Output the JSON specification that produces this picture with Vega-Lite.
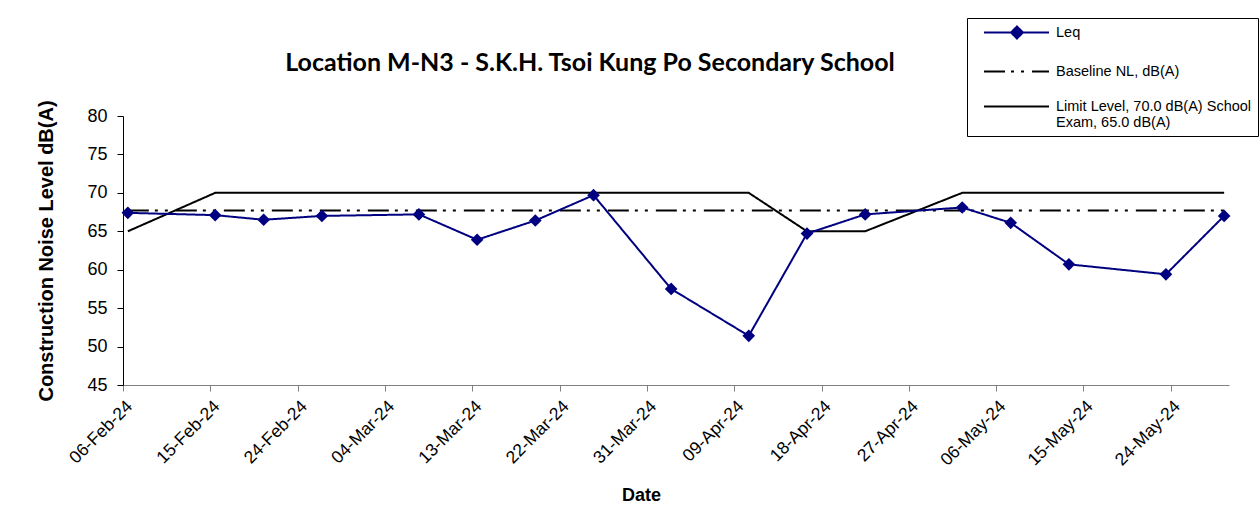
{
  "$schema": "https://vega.github.io/schema/vega-lite/v6.json",
  "width": 1106,
  "height": 269,
  "autosize": {"type": "none"},
  "padding": {"left": 123, "top": 116, "right": 30, "bottom": 125},
  "background": "white",
  "title": {
    "text": "Location M-N3 - S.K.H. Tsoi Kung Po Secondary School",
    "font": "Lato", "fontSize": 25, "fontWeight": "bold", "color": "black",
    "anchor": "middle", "dx": -86, "offset": 0, "dy": 58
  },
  "data": {
    "values": [
      {"date": "2024-02-06T12:00:00", "series": "Baseline NL, dB(A)", "value": 67.7},
      {"date": "2024-05-29T12:00:00", "series": "Baseline NL, dB(A)", "value": 67.7},
      {"date": "2024-02-06T12:00:00", "series": "Limit Level, 70.0 dB(A) School Exam, 65.0 dB(A)", "value": 65},
      {"date": "2024-02-15T12:00:00", "series": "Limit Level, 70.0 dB(A) School Exam, 65.0 dB(A)", "value": 70},
      {"date": "2024-04-10T12:00:00", "series": "Limit Level, 70.0 dB(A) School Exam, 65.0 dB(A)", "value": 70},
      {"date": "2024-04-16T12:00:00", "series": "Limit Level, 70.0 dB(A) School Exam, 65.0 dB(A)", "value": 65},
      {"date": "2024-04-22T12:00:00", "series": "Limit Level, 70.0 dB(A) School Exam, 65.0 dB(A)", "value": 65},
      {"date": "2024-05-02T12:00:00", "series": "Limit Level, 70.0 dB(A) School Exam, 65.0 dB(A)", "value": 70},
      {"date": "2024-05-29T12:00:00", "series": "Limit Level, 70.0 dB(A) School Exam, 65.0 dB(A)", "value": 70},
      {"date": "2024-02-06T12:00:00", "series": "Leq", "value": 67.4},
      {"date": "2024-02-15T12:00:00", "series": "Leq", "value": 67.1},
      {"date": "2024-02-20T12:00:00", "series": "Leq", "value": 66.5},
      {"date": "2024-02-26T12:00:00", "series": "Leq", "value": 67.0},
      {"date": "2024-03-07T12:00:00", "series": "Leq", "value": 67.2},
      {"date": "2024-03-13T12:00:00", "series": "Leq", "value": 63.9},
      {"date": "2024-03-19T12:00:00", "series": "Leq", "value": 66.4},
      {"date": "2024-03-25T12:00:00", "series": "Leq", "value": 69.7},
      {"date": "2024-04-02T12:00:00", "series": "Leq", "value": 57.5},
      {"date": "2024-04-10T12:00:00", "series": "Leq", "value": 51.4},
      {"date": "2024-04-16T12:00:00", "series": "Leq", "value": 64.7},
      {"date": "2024-04-22T12:00:00", "series": "Leq", "value": 67.2},
      {"date": "2024-05-02T12:00:00", "series": "Leq", "value": 68.1},
      {"date": "2024-05-07T12:00:00", "series": "Leq", "value": 66.1},
      {"date": "2024-05-13T12:00:00", "series": "Leq", "value": 60.7},
      {"date": "2024-05-23T12:00:00", "series": "Leq", "value": 59.4},
      {"date": "2024-05-29T12:00:00", "series": "Leq", "value": 67.0}
    ]
  },
  "encoding": {
    "x": {
      "field": "date", "type": "temporal",
      "scale": {"domain": [{"year": 2024, "month": 2, "date": 6}, {"year": 2024, "month": 5, "date": 30}]},
      "axis": {
        "title": "Date",
        "values": [
          {"year": 2024, "month": 2, "date": 6}, {"year": 2024, "month": 2, "date": 15},
          {"year": 2024, "month": 2, "date": 24}, {"year": 2024, "month": 3, "date": 4},
          {"year": 2024, "month": 3, "date": 13}, {"year": 2024, "month": 3, "date": 22},
          {"year": 2024, "month": 3, "date": 31}, {"year": 2024, "month": 4, "date": 9},
          {"year": 2024, "month": 4, "date": 18}, {"year": 2024, "month": 4, "date": 27},
          {"year": 2024, "month": 5, "date": 6}, {"year": 2024, "month": 5, "date": 15},
          {"year": 2024, "month": 5, "date": 24}
        ],
        "format": "%d-%b-%y",
        "labelAngle": -45,
        "labelFont": "Liberation Sans", "labelFontSize": 17.5, "labelColor": "black",
        "labelPadding": 6,
        "domainColor": "#808080", "tickColor": "#808080", "tickSize": 6,
        "grid": false,
        "titleFont": "Liberation Sans", "titleFontSize": 18, "titleFontWeight": "bold", "titleColor": "black",
        "titleX": 518, "titlePadding": 18
      }
    },
    "y": {
      "field": "value", "type": "quantitative",
      "scale": {"domain": [45, 80], "nice": false, "zero": false},
      "axis": {
        "title": "Construction Noise Level  dB(A)",
        "values": [45, 50, 55, 60, 65, 70, 75, 80],
        "labelFont": "Liberation Sans", "labelFontSize": 18, "labelColor": "black",
        "labelPadding": 10,
        "domainColor": "black", "tickColor": "black", "tickSize": 6,
        "grid": false,
        "titleFont": "Liberation Sans", "titleFontSize": 20, "titleFontWeight": "bold", "titleColor": "black",
        "titlePadding": 30
      }
    }
  },
  "layer": [
    {
      "mark": {"type": "line", "strokeWidth": 2},
      "encoding": {
        "color": {
          "field": "series", "type": "nominal",
          "scale": {
            "domain": ["Leq", "Baseline NL, dB(A)", "Limit Level, 70.0 dB(A) School Exam, 65.0 dB(A)"],
            "range": ["#000080", "#000000", "#000000"]
          },
          "legend": {
            "title": null,
            "orient": "none",
            "legendX": 844,
            "legendY": -98,
            "strokeColor": "black",
            "fillColor": "white",
            "padding": 6,
            "symbolType": "stroke",
            "symbolSize": 225,
            "symbolStrokeWidth": 2,
            "labelFont": "Liberation Sans",
            "labelFontSize": 14.5,
            "labelColor": "black",
            "labelLimit": 400,
            "labelOffset": 66,
            "rowPadding": 20,
            "labelExpr": "datum.label == 'Limit Level, 70.0 dB(A) School Exam, 65.0 dB(A)' ? ['Limit Level, 70.0 dB(A) School', 'Exam, 65.0 dB(A)'] : datum.label",
            "encode": {
              "symbols": {
                "update": {
                  "shape": {"signal": "datum.value == 'Leq' ? 'M0.333,0L9,0M4.73,-0.8L5.53,0L4.73,0.8L3.93,0Z' : 'M0.333,0L9,0'"},
                  "fill": {"signal": "datum.value == 'Leq' ? '#000080' : 'transparent'"}
                }
              }
            }
          }
        },
        "strokeDash": {
          "field": "series", "type": "nominal",
          "scale": {
            "domain": ["Leq", "Baseline NL, dB(A)", "Limit Level, 70.0 dB(A) School Exam, 65.0 dB(A)"],
            "range": [[1, 0], [21, 6, 3, 7, 3, 8], [1, 0]]
          },
          "legend": {
            "title": null,
            "orient": "none",
            "legendX": 844,
            "legendY": -98,
            "symbolType": "stroke",
            "symbolSize": 225,
            "symbolStrokeWidth": 2
          }
        }
      }
    },
    {
      "transform": [{"filter": "datum.series == 'Leq'"}],
      "mark": {"type": "point", "shape": "diamond", "filled": true, "size": 160, "color": "#000080", "opacity": 1}
    }
  ],
  "config": {
    "view": {"stroke": null}
  }
}
